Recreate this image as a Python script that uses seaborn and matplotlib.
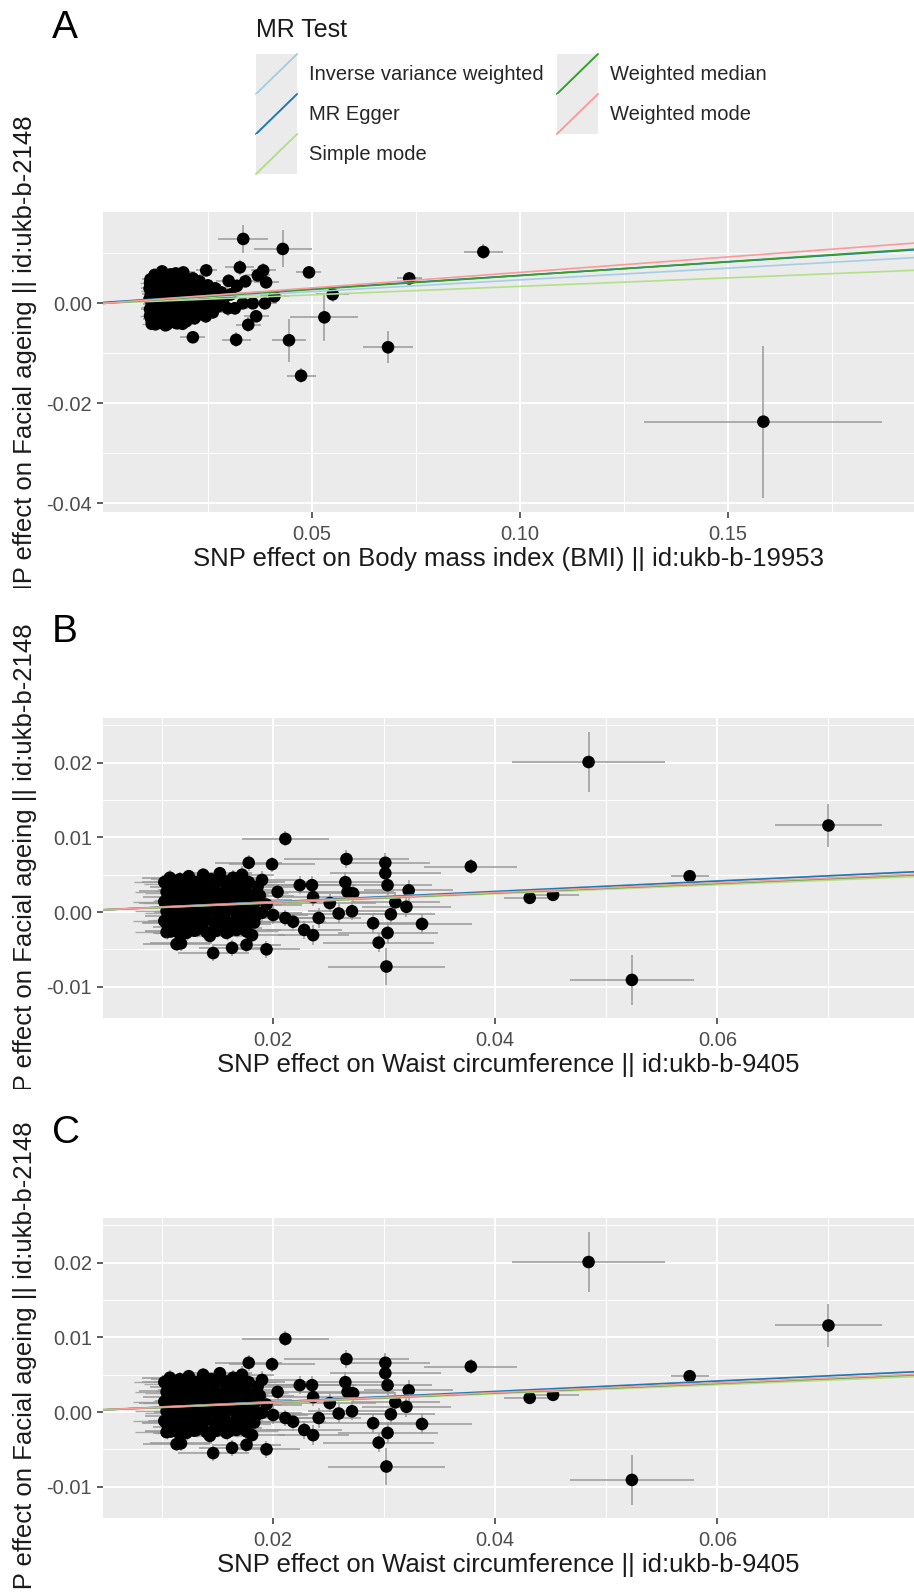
import numpy as np
import pandas as pd
import matplotlib
matplotlib.use("Agg")
import matplotlib.pyplot as plt
import seaborn as sns
from matplotlib.legend_handler import HandlerBase
from matplotlib.patches import Rectangle
from matplotlib.lines import Line2D
from matplotlib.transforms import Bbox, TransformedBbox

# MR methods and their line colours
methods = ['Inverse variance weighted', 'MR Egger', 'Simple mode', 'Weighted median', 'Weighted mode']
method_colors = ['#a6cee3', '#1f78b4', '#b2df8a', '#33a02c', '#fb9a99']

# Panel A: BMI -> facial ageing
bmi_slope = [0.047, 0.054, 0.034, 0.0557, 0.062]
bmi_intercept = [0.0, 0.0002, 0.0, 0.0, 0.0]
bmi_x = [0.0110, 0.0111, 0.0112, 0.0114, 0.0116, 0.0118, 0.0120, 0.0122, 0.0124, 0.0126,
         0.0128, 0.0130, 0.0133, 0.0135, 0.0138, 0.0140, 0.0142, 0.0145, 0.0148, 0.0150,
         0.0153, 0.0156, 0.0158, 0.0161, 0.0164, 0.0167, 0.0170, 0.0173, 0.0176, 0.0179,
         0.0182, 0.0185, 0.0188, 0.0191, 0.0195, 0.0198, 0.0202, 0.0206, 0.0210, 0.0214,
         0.0218, 0.0222, 0.0226, 0.0230, 0.0235, 0.0240, 0.0245, 0.0250, 0.0256, 0.0262,
         0.0268, 0.0275, 0.0282, 0.0290, 0.0298,
         0.0113, 0.0117, 0.0121, 0.0125, 0.0129, 0.0134, 0.0139, 0.0144, 0.0149, 0.0154,
         0.0159, 0.0165, 0.0171, 0.0177, 0.0184, 0.0190, 0.0197, 0.0204, 0.0212, 0.0220,
         0.0335, 0.0430, 0.0327, 0.0383, 0.0493, 0.0734, 0.0912, 0.0550, 0.0530, 0.0445,
         0.0318, 0.0214, 0.0347, 0.0366, 0.0387, 0.0358, 0.0334, 0.0410, 0.0390, 0.0370,
         0.0340, 0.0246, 0.0474, 0.0683, 0.1585, 0.0305, 0.0315, 0.0320, 0.0300]
bmi_y = [0.0030, -0.0012, 0.0048, -0.0032, 0.0010, 0.0040, -0.0020, 0.0022, -0.0042, 0.0056,
         0.0002, -0.0028, 0.0036, 0.0014, -0.0038, 0.0064, -0.0008, 0.0028, -0.0044, 0.0046,
         0.0006, -0.0022, 0.0054, -0.0034, 0.0018, 0.0038, -0.0012, 0.0060, -0.0040, 0.0008,
         0.0044, -0.0026, 0.0024, 0.0062, -0.0004, -0.0036, 0.0034, 0.0012, -0.0018, 0.0050,
         -0.0030, 0.0026, 0.0002, 0.0044, -0.0014, 0.0020, -0.0026, 0.0036, 0.0008, -0.0018,
         0.0030, -0.0006, 0.0022, 0.0012, -0.0010,
         0.0018, -0.0002, 0.0052, -0.0010, 0.0020, -0.0016, 0.0026, 0.0002, 0.0016, 0.0032,
         -0.0010, -0.0026, 0.0024, 0.0016, 0.0000, -0.0018, 0.0046, -0.0028, 0.0036, -0.0010,
         0.0129, 0.0109, 0.0072, 0.0066, 0.0062, 0.0050, 0.0103, 0.0018, -0.0028, -0.0074,
         -0.0073, -0.0068, -0.0043, -0.0026, 0.0000, 0.0000, 0.0000, 0.0014, 0.0042, 0.0056,
         0.0044, 0.0066, -0.0145, -0.0088, -0.0237, 0.0018, -0.0010, 0.0035, 0.0045]
bmi_se_x = [0.0020, 0.0022, 0.0021, 0.0020, 0.0023, 0.0022, 0.0020, 0.0024, 0.0021, 0.0022,
            0.0023, 0.0022, 0.0024, 0.0021, 0.0023, 0.0025, 0.0022, 0.0024, 0.0023, 0.0025,
            0.0022, 0.0024, 0.0026, 0.0023, 0.0025, 0.0024, 0.0026, 0.0025, 0.0024, 0.0026,
            0.0025, 0.0027, 0.0026, 0.0028, 0.0025, 0.0027, 0.0028, 0.0026, 0.0028, 0.0030,
            0.0027, 0.0029, 0.0030, 0.0028, 0.0031, 0.0030, 0.0029, 0.0032, 0.0030, 0.0033,
            0.0031, 0.0032, 0.0034, 0.0033, 0.0035,
            0.0021, 0.0022, 0.0020, 0.0023, 0.0022, 0.0024, 0.0023, 0.0022, 0.0024, 0.0025,
            0.0023, 0.0026, 0.0025, 0.0027, 0.0026, 0.0028, 0.0027, 0.0029, 0.0030, 0.0029,
            0.0060, 0.0070, 0.0035, 0.0030, 0.0030, 0.0030, 0.0047, 0.0040, 0.0082, 0.0040,
            0.0035, 0.0030, 0.0030, 0.0030, 0.0030, 0.0025, 0.0025, 0.0035, 0.0030, 0.0030,
            0.0030, 0.0025, 0.0035, 0.0060, 0.0286, 0.0030, 0.0032, 0.0030, 0.0031]
bmi_se_y = [0.0010, 0.0011, 0.0010, 0.0012, 0.0010, 0.0011, 0.0012, 0.0010, 0.0011, 0.0012,
            0.0010, 0.0011, 0.0012, 0.0010, 0.0011, 0.0012, 0.0011, 0.0010, 0.0012, 0.0011,
            0.0010, 0.0012, 0.0011, 0.0010, 0.0012, 0.0011, 0.0012, 0.0010, 0.0011, 0.0012,
            0.0011, 0.0012, 0.0013, 0.0011, 0.0012, 0.0013, 0.0012, 0.0011, 0.0013, 0.0012,
            0.0013, 0.0012, 0.0013, 0.0014, 0.0012, 0.0013, 0.0014, 0.0013, 0.0012, 0.0014,
            0.0013, 0.0014, 0.0013, 0.0014, 0.0015,
            0.0010, 0.0011, 0.0010, 0.0012, 0.0011, 0.0010, 0.0012, 0.0011, 0.0010, 0.0012,
            0.0011, 0.0012, 0.0010, 0.0011, 0.0012, 0.0013, 0.0011, 0.0012, 0.0013, 0.0012,
            0.0028, 0.0037, 0.0015, 0.0015, 0.0012, 0.0012, 0.0015, 0.0015, 0.0047, 0.0043,
            0.0015, 0.0012, 0.0015, 0.0012, 0.0012, 0.0012, 0.0012, 0.0012, 0.0012, 0.0012,
            0.0012, 0.0012, 0.0015, 0.0032, 0.0152, 0.0013, 0.0013, 0.0014, 0.0013]
# dense core of the BMI instruments (one common standard error)
bmi_core_x = [0.0115, 0.0133, 0.0152, 0.0170, 0.0189,
              0.0111, 0.0129, 0.0148, 0.0167, 0.0186, 0.0205, 0.0224,
              0.0114, 0.0132, 0.0151, 0.0170, 0.0189, 0.0208, 0.0227, 0.0246,
              0.0110, 0.0129, 0.0148, 0.0167, 0.0186, 0.0205, 0.0224, 0.0243, 0.0262,
              0.0113, 0.0132, 0.0151, 0.0170, 0.0189, 0.0208, 0.0227, 0.0246,
              0.0111, 0.0130, 0.0149, 0.0168, 0.0187, 0.0206,
              0.0122, 0.0141, 0.0160, 0.0179]
bmi_core_y = [-0.0041, -0.0039, -0.0042, -0.0038, -0.0041,
              -0.0025, -0.0023, -0.0026, -0.0022, -0.0025, -0.0021, -0.0024,
              -0.0007, -0.0009, -0.0006, -0.0010, -0.0007, -0.0008, -0.0005, -0.0009,
              0.0009, 0.0007, 0.0010, 0.0006, 0.0009, 0.0007, 0.0010, 0.0006, 0.0008,
              0.0025, 0.0023, 0.0026, 0.0022, 0.0025, 0.0023, 0.0026, 0.0022,
              0.0041, 0.0039, 0.0042, 0.0038, 0.0041, 0.0039,
              0.0057, 0.0055, 0.0058, 0.0054]
bmi_core_se = (0.0024, 0.0011)

# Panels B and C: waist circumference -> facial ageing
waist_slope = [0.0695, 0.0700, 0.0610, 0.0640, 0.0650]
waist_intercept = [0.0, -0.00005, 0.0, 0.0, 0.0]
waist_x = [0.0102, 0.0103, 0.0104, 0.0105, 0.0106, 0.0107, 0.0108, 0.0110, 0.0111, 0.0112,
           0.0113, 0.0115, 0.0116, 0.0118, 0.0119, 0.0121, 0.0122, 0.0124, 0.0125, 0.0127,
           0.0129, 0.0130, 0.0132, 0.0134, 0.0135, 0.0137, 0.0139, 0.0140, 0.0142, 0.0144,
           0.0146, 0.0148, 0.0150, 0.0152, 0.0154, 0.0156, 0.0158, 0.0160, 0.0162, 0.0164,
           0.0166, 0.0168, 0.0170, 0.0172, 0.0174, 0.0176, 0.0178, 0.0178, 0.0182, 0.0184,
           0.0186, 0.0188, 0.0190, 0.0190,
           0.0113, 0.0117, 0.0146, 0.0163, 0.0176, 0.0194, 0.0143, 0.0159, 0.0181, 0.0211,
           0.0199, 0.0204, 0.0194, 0.0200, 0.0211, 0.0218, 0.0228, 0.0236, 0.0224, 0.0235,
           0.0236, 0.0241, 0.0251, 0.0259, 0.0271, 0.0265, 0.0267, 0.0272, 0.0266, 0.0290,
           0.0295, 0.0302, 0.0301, 0.0301, 0.0303, 0.0306, 0.0303, 0.0310, 0.0320, 0.0322,
           0.0334, 0.0378, 0.0431, 0.0452, 0.0484, 0.0523, 0.0575, 0.0700]
waist_y = [0.0040, 0.0012, -0.0015, 0.0028, -0.0005, 0.0046, -0.0026, 0.0020, 0.0034, -0.0012,
           0.0005, -0.0028, 0.0044, 0.0015, -0.0020, 0.0030, 0.0000, 0.0048, -0.0010, 0.0022,
           -0.0025, 0.0040, 0.0008, -0.0016, 0.0032, 0.0050, -0.0006, 0.0018, -0.0028, 0.0044,
           0.0002, 0.0028, -0.0018, 0.0052, 0.0012, -0.0008, 0.0036, -0.0026, 0.0022, 0.0046,
           0.0000, -0.0016, 0.0030, 0.0050, 0.0010, -0.0024, 0.0040, 0.0066, 0.0016, -0.0006,
           0.0034, 0.0022, -0.0001, 0.0043,
           -0.0043, -0.0042, -0.0055, -0.0048, -0.0044, -0.0050, -0.0032, -0.0022, -0.0031, 0.0098,
           0.0064, 0.0027, 0.0010, -0.0004, -0.0008, -0.0013, -0.0024, -0.0031, 0.0036, 0.0036,
           0.0020, -0.0008, 0.0012, -0.0002, 0.0001, 0.0040, 0.0027, 0.0025, 0.0071, -0.0015,
           -0.0041, -0.0073, 0.0066, 0.0052, 0.0036, -0.0003, -0.0028, 0.0013, 0.0007, 0.0029,
           -0.0016, 0.0061, 0.0019, 0.0023, 0.0201, -0.0091, 0.0048, 0.0116]
waist_se_x = [0.0020, 0.0024, 0.0022, 0.0026, 0.0021, 0.0025, 0.0023, 0.0027, 0.0022, 0.0025,
              0.0028, 0.0023, 0.0026, 0.0024, 0.0027, 0.0025, 0.0029, 0.0024, 0.0026, 0.0028,
              0.0025, 0.0027, 0.0030, 0.0026, 0.0028, 0.0025, 0.0029, 0.0027, 0.0026, 0.0030,
              0.0028, 0.0031, 0.0027, 0.0029, 0.0032, 0.0028, 0.0030, 0.0027, 0.0031, 0.0029,
              0.0033, 0.0030, 0.0032, 0.0029, 0.0034, 0.0031, 0.0033, 0.0030, 0.0035, 0.0032,
              0.0034, 0.0031, 0.0036, 0.0033,
              0.0030, 0.0028, 0.0032, 0.0030, 0.0031, 0.0030, 0.0029, 0.0031, 0.0030, 0.0039,
              0.0039, 0.0030, 0.0032, 0.0031, 0.0033, 0.0030, 0.0034, 0.0032, 0.0040, 0.0040,
              0.0035, 0.0038, 0.0042, 0.0045, 0.0040, 0.0040, 0.0042, 0.0038, 0.0056, 0.0050,
              0.0050, 0.0053, 0.0040, 0.0050, 0.0040, 0.0040, 0.0045, 0.0040, 0.0040, 0.0040,
              0.0045, 0.0042, 0.0023, 0.0023, 0.0069, 0.0056, 0.0017, 0.0048]
waist_se_y = [0.0008, 0.0009, 0.0010, 0.0008, 0.0009, 0.0010, 0.0009, 0.0008, 0.0010, 0.0009,
              0.0008, 0.0010, 0.0009, 0.0008, 0.0010, 0.0009, 0.0010, 0.0008, 0.0009, 0.0010,
              0.0009, 0.0010, 0.0008, 0.0009, 0.0010, 0.0009, 0.0010, 0.0008, 0.0009, 0.0010,
              0.0009, 0.0010, 0.0011, 0.0009, 0.0010, 0.0011, 0.0010, 0.0009, 0.0011, 0.0010,
              0.0011, 0.0010, 0.0011, 0.0012, 0.0010, 0.0011, 0.0012, 0.0011, 0.0010, 0.0012,
              0.0011, 0.0012, 0.0011, 0.0012,
              0.0009, 0.0010, 0.0010, 0.0011, 0.0010, 0.0011, 0.0010, 0.0011, 0.0012, 0.0010,
              0.0010, 0.0011, 0.0011, 0.0012, 0.0011, 0.0012, 0.0012, 0.0013, 0.0012, 0.0012,
              0.0012, 0.0013, 0.0012, 0.0013, 0.0012, 0.0013, 0.0012, 0.0013, 0.0012, 0.0013,
              0.0013, 0.0025, 0.0013, 0.0014, 0.0013, 0.0014, 0.0014, 0.0014, 0.0013, 0.0014,
              0.0014, 0.0010, 0.0008, 0.0008, 0.0040, 0.0033, 0.0008, 0.0029]
waist_core_x = [0.0104, 0.0113, 0.0122, 0.0131, 0.0140, 0.0149, 0.0158, 0.0167, 0.0176,
                0.0102, 0.0111, 0.0120, 0.0129, 0.0138, 0.0147, 0.0156, 0.0165, 0.0174, 0.0183,
                0.0104, 0.0113, 0.0122, 0.0131, 0.0140, 0.0149, 0.0158, 0.0167, 0.0176, 0.0185,
                0.0102, 0.0111, 0.0120, 0.0129, 0.0138, 0.0147, 0.0156, 0.0165, 0.0174, 0.0183,
                0.0104, 0.0113, 0.0122, 0.0131, 0.0140, 0.0149, 0.0158, 0.0167, 0.0176, 0.0185,
                0.0103, 0.0112, 0.0121, 0.0130, 0.0139, 0.0148, 0.0157, 0.0166, 0.0175]
waist_core_y = [-0.0027, -0.0025, -0.0028, -0.0024, -0.0027, -0.0025, -0.0028, -0.0024, -0.0026,
                -0.0012, -0.0014, -0.0011, -0.0015, -0.0012, -0.0014, -0.0011, -0.0013, -0.0012, -0.0014,
                0.0001, -0.0001, 0.0002, -0.0002, 0.0001, -0.0001, 0.0002, -0.0001, 0.0001, 0.0000,
                0.0014, 0.0012, 0.0015, 0.0011, 0.0014, 0.0012, 0.0015, 0.0011, 0.0014, 0.0012,
                0.0027, 0.0025, 0.0028, 0.0024, 0.0027, 0.0025, 0.0028, 0.0024, 0.0027, 0.0025,
                0.0040, 0.0038, 0.0041, 0.0037, 0.0040, 0.0038, 0.0041, 0.0037, 0.0040]
waist_core_se = (0.0028, 0.0009)

ylabel_text = 'SNP effect on Facial ageing || id:ukb-b-2148'
bmi_xlabel = 'SNP effect on Body mass index (BMI) || id:ukb-b-19953'
waist_xlabel = 'SNP effect on Waist circumference || id:ukb-b-9405'

sns.set_theme(style='darkgrid', rc={'axes.facecolor': '#ebebeb', 'figure.facecolor': 'white'})
plt.rcParams['font.family'] = ['Liberation Sans', 'DejaVu Sans']

W, H = 914, 1592
fig = plt.figure(figsize=(W / 100, H / 100), dpi=100)


class DiagKey(HandlerBase):
    # ggplot style abline key: grey square with a diagonal line
    def create_artists(self, legend, orig_handle, xdescent, ydescent, width, height, fontsize, trans):
        bg = Rectangle((-xdescent, -ydescent), width, height, facecolor='#ebebeb',
                       edgecolor='none', transform=trans)
        ln = Line2D([-xdescent, -xdescent + width], [-ydescent, -ydescent + height],
                    color=orig_handle.get_color(), lw=1.4, transform=trans)
        return [bg, ln]


def panel(rect, x, y, sx, sy, cx, cy, cse, slopes, intercepts, xlim, ylim,
          xt, xtl, xmin, yt, ytl, ymin, xlabel):
    ax = fig.add_axes(rect)
    ax.errorbar(cx, cy, xerr=cse[0], yerr=cse[1], fmt='none', ecolor='#aaaaaa',
                elinewidth=1.0, capsize=0, zorder=2)
    ax.errorbar(x, y, xerr=sx, yerr=sy, fmt='none', ecolor='#999999', elinewidth=1.1,
                capsize=0, zorder=2)
    df = pd.DataFrame({'x': list(x) + list(cx), 'y': list(y) + list(cy)})
    sns.scatterplot(data=df, x='x', y='y', ax=ax, color='black', s=82, edgecolor='none',
                    linewidth=0, zorder=3)
    for m, c, b, a in zip(methods, method_colors, slopes, intercepts):
        ax.axline((0, a), slope=b, color=c, lw=1.2, zorder=4, label=m)
    ax.set_xlim(*xlim)
    ax.set_ylim(*ylim)
    ax.set_xticks(xt)
    ax.set_xticklabels(xtl)
    ax.set_xticks(xmin, minor=True)
    ax.set_yticks(yt)
    ax.set_yticklabels(ytl)
    ax.set_yticks(ymin, minor=True)
    ax.grid(which='major', color='white', lw=1.4)
    ax.grid(which='minor', color='white', lw=0.7)
    ax.set_axisbelow(True)
    for s in ax.spines.values():
        s.set_visible(False)
    ax.tick_params(which='major', length=4, width=1.1, color='#333333', labelcolor='#4d4d4d',
                   labelsize=14.5)
    ax.tick_params(axis='x', which='major', pad=5, bottom=True)
    ax.tick_params(axis='y', which='major', pad=4, left=True)
    ax.tick_params(which='minor', length=0)
    ax.set_ylabel('')
    ax.set_xlabel(xlabel, fontsize=18.5, color='#1a1a1a', va='center')
    ax.xaxis.set_label_coords(0.5, -47 / 300)
    return ax


xw = 811 / W
panel([103 / W, 1 - 512 / H, xw, 300 / H], bmi_x, bmi_y, bmi_se_x, bmi_se_y,
      bmi_core_x, bmi_core_y, bmi_core_se,
      bmi_slope, bmi_intercept, (-0.0002, 0.1947), (-0.0418, 0.0183),
      [0.05, 0.10, 0.15], ['0.05', '0.10', '0.15'], [0.025, 0.075, 0.125, 0.175],
      [-0.04, -0.02, 0.0], ['-0.04', '-0.02', '0.00'], [-0.03, -0.01, 0.01], bmi_xlabel)

for top in (718, 1218):
    panel([103 / W, 1 - (top + 300) / H, xw, 300 / H], waist_x, waist_y, waist_se_x, waist_se_y,
          waist_core_x, waist_core_y, waist_core_se,
          waist_slope, waist_intercept, (0.00468, 0.0777), (-0.0142, 0.026),
          [0.02, 0.04, 0.06], ['0.02', '0.04', '0.06'], [0.01, 0.03, 0.05, 0.07],
          [-0.01, 0.0, 0.01, 0.02], ['-0.01', '0.00', '0.01', '0.02'],
          [-0.005, 0.005, 0.015, 0.025], waist_xlabel)

# panel letters
for letter, yc in (('A', 28), ('B', 632), ('C', 1133)):
    fig.text(52 / W, 1 - yc / H, letter, fontsize=28, color='black', ha='left', va='center')

# y labels, cut by each panel's strip like the stacked screenshots
for top, c0, c1 in ((115, 0, 588), (623, 588, 1089), (1121, 1089, H)):
    t = fig.text(25 / W, 1 - top / H, ylabel_text, rotation=90, ha='center', va='top',
                 fontsize=18.5, color='#1a1a1a')
    t.set_clip_box(TransformedBbox(Bbox([[0, 1 - c1 / H], [1, 1 - c0 / H]]), fig.transFigure))
    t.set_clip_on(True)

# legend
fig.text(256 / W, 1 - 30 / H, 'MR Test', fontsize=18, color='#1a1a1a', ha='left', va='center')
handles = [Line2D([], [], color=c) for c in method_colors]
fig.legend(handles, methods, loc='upper left', bbox_to_anchor=(256 / W, 1 - 54 / H),
           bbox_transform=fig.transFigure, ncol=2, frameon=False, fontsize=14.5,
           handlelength=2.04, handleheight=2.68, labelspacing=0, handletextpad=0.6,
           columnspacing=0.65, borderpad=0, borderaxespad=0,
           handler_map={Line2D: DiagKey()})

fig.savefig('out.png', dpi=100)
